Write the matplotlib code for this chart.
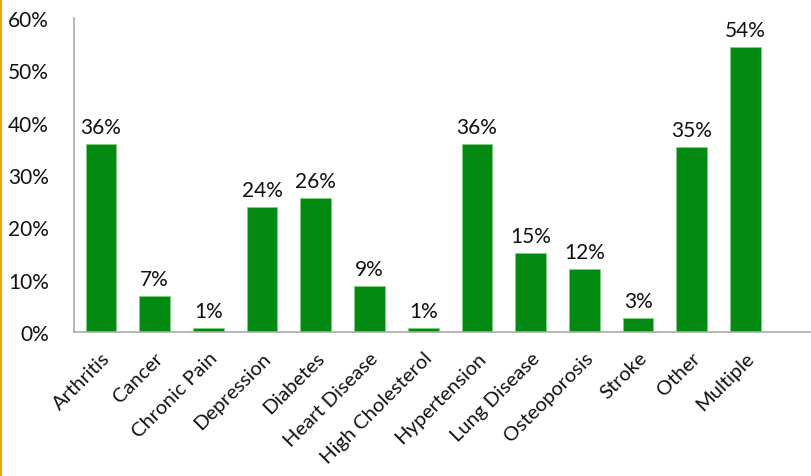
import matplotlib.pyplot as plt
from matplotlib.lines import Line2D
from matplotlib.ticker import FuncFormatter

categories = ["Arthritis", "Cancer", "Chronic Pain", "Depression", "Diabetes",
              "Heart Disease", "High Cholesterol", "Hypertension", "Lung Disease",
              "Osteoporosis", "Stroke", "Other", "Multiple"]
values = [36.0, 6.9, 0.8, 23.9, 25.6, 8.8, 0.8, 35.9, 15.1, 12.0, 2.7, 35.4, 54.5]
labels = ["36%", "7%", "1%", "24%", "26%", "9%", "1%", "36%", "15%", "12%", "3%", "35%", "54%"]
yticks = [0, 10, 20, 30, 40, 50, 60]


def main():
    plt.rcParams["font.family"] = ["Lato", "DejaVu Sans"]
    fig = plt.figure(figsize=(8.12, 4.77), dpi=100)
    ax = fig.add_axes([74 / 812, 1 - 333 / 477, (810 - 74) / 812, (333 - 19) / 477])

    x = range(len(categories))
    bars = ax.bar(x, values, width=0.57, color="#038a12", edgecolor="#7fd07f", linewidth=0.6)
    for b, lab in zip(bars, labels):
        ax.text(b.get_x() + b.get_width() / 2, b.get_height() + 1.3, lab,
                ha="center", va="bottom", fontsize=15, color="#111111")

    ax.set_xlim(-0.5, 13.2)
    ax.set_ylim(0, 60)
    ax.set_yticks(yticks)
    ax.yaxis.set_major_formatter(FuncFormatter(lambda v, p: f"{int(v)}%"))
    ax.set_xticks(list(x))
    ax.set_xticklabels(categories, rotation=45, ha="right", rotation_mode="anchor")
    ax.tick_params(axis="both", length=0, labelsize=15, colors="#111111")
    ax.tick_params(axis="x", labelsize=14.5, pad=12)
    ax.tick_params(axis="y", pad=18)
    for s in ["top", "right"]:
        ax.spines[s].set_visible(False)
    for s in ["left", "bottom"]:
        ax.spines[s].set_color("#aaaaaa")
        ax.spines[s].set_linewidth(1.2)

    fig.add_artist(Line2D([0.0015, 0.0015], [0, 1], color="#e8a800", linewidth=1.5,
                          transform=fig.transFigure))
    fig.savefig("out.png", dpi=100)


if __name__ == "__main__":
    main()
